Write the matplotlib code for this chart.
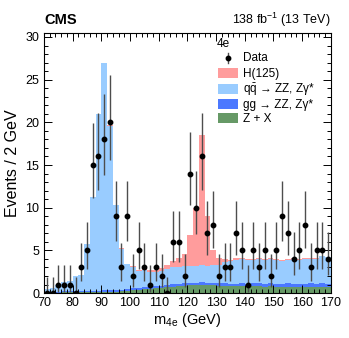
"""
Four-lepton invariant mass, 4e channel, 70-170 GeV
stacked expectations + data with Poisson (Garwood) error bars
"""

import numpy as np
import matplotlib
matplotlib.use("Agg")
import matplotlib.pyplot as plt
from matplotlib.patches import Rectangle
from matplotlib.ticker import MultipleLocator

plt.rcParams["font.family"] = ["Liberation Sans", "DejaVu Sans"]
plt.rcParams["mathtext.fontset"] = "custom"
plt.rcParams["mathtext.rm"] = "Liberation Sans"
plt.rcParams["mathtext.it"] = "Liberation Sans:italic"
plt.rcParams["mathtext.bf"] = "Liberation Sans:bold"

# ── Binning ─────────────────────────────────────────────────────────────────
edges = np.arange(70, 172, 2)          # 2 GeV bins, 70-170 GeV

# ── Observed events per bin ─────────────────────────────────────────────────
data_counts = [0, 0, 1, 1, 1, 0, 3, 5, 15, 16,
               18, 20, 9, 3, 9, 2, 5, 3, 1, 3,
               2, 0, 6, 6, 2, 14, 10, 16, 7, 8,
               2, 3, 3, 7, 5, 1, 5, 3, 5, 2,
               5, 9, 7, 4, 5, 8, 3, 5, 5, 4]

# ── Expected yields per bin (stack order: bottom -> top) ────────────────────
zx = [0.05, 0.05, 0.06, 0.07, 0.08, 0.08, 0.10, 0.10, 0.12, 0.12,
      0.15, 0.15, 0.18, 0.20, 0.25, 0.35, 0.40, 0.45, 0.50, 0.55,
      0.60, 0.70, 0.75, 0.80, 0.85, 0.90, 0.90, 0.95, 0.90, 0.90,
      0.85, 0.85, 0.80, 0.80, 0.80, 0.75, 0.80, 0.80, 0.75, 0.80,
      0.75, 0.70, 0.75, 0.70, 0.70, 0.70, 0.75, 0.70, 0.70, 0.65]

gg = [0.10, 0.10, 0.12, 0.12, 0.13, 0.14, 0.15, 0.15, 0.16, 0.17,
      0.18, 0.18, 0.18, 0.20, 0.20, 0.20, 0.22, 0.25, 0.25, 0.27,
      0.28, 0.30, 0.30, 0.30, 0.30, 0.30, 0.30, 0.30, 0.30, 0.30,
      0.30, 0.30, 0.30, 0.30, 0.35, 0.35, 0.35, 0.35, 0.35, 0.35,
      0.35, 0.35, 0.40, 0.40, 0.40, 0.40, 0.40, 0.40, 0.45, 0.45]

qq = [0.35, 0.45, 0.82, 1.11, 1.19, 1.78, 1.85, 5.45, 10.92, 20.71,
      26.57, 19.27, 9.94, 4.80, 2.95, 2.55, 1.98, 2.00, 1.75, 1.68,
      1.72, 1.80, 1.95, 2.00, 2.05, 2.00, 2.00, 2.05, 2.00, 2.10,
      2.15, 2.45, 2.60, 2.80, 2.85, 2.80, 2.75, 2.85, 2.80, 2.85,
      2.80, 2.75, 2.75, 2.90, 2.80, 2.90, 2.85, 2.90, 3.15, 3.10]

h125 = [0.00, 0.00, 0.00, 0.00, 0.00, 0.00, 0.00, 0.00, 0.02, 0.03,
        0.10, 0.05, 0.03, 0.03, 0.05, 0.05, 0.05, 0.10, 0.15, 0.20,
        0.30, 0.50, 0.80, 1.00, 1.40, 3.55, 6.80, 15.20, 5.80, 1.70,
        0.80, 0.40, 0.20, 0.15, 0.10, 0.10, 0.10, 0.08, 0.08, 0.08,
        0.07, 0.07, 0.07, 0.07, 0.07, 0.06, 0.06, 0.06, 0.06, 0.06]

labels = ["Z + X",
          "gg → ZZ, Zγ*",
          r"q$\bar{\mathrm{q}}$ → ZZ, Zγ*",
          "H(125)"]
colors = ["#669966", "#4b78ff", "#99ccff", "#ff9c9c"]


def garwood(n):
    """68% Poisson interval (Wilson-Hilferty approximation)."""
    n = np.asarray(n, dtype=float)
    up = (n + 1) * (1 - 1 / (9 * (n + 1)) + 1 / (3 * np.sqrt(n + 1))) ** 3
    with np.errstate(divide="ignore", invalid="ignore"):
        lo = n * (1 - 1 / (9 * n) - 1 / (3 * np.sqrt(n))) ** 3
    lo = np.where(n > 0, lo, 0.0)
    return n - lo, up - n


# ── Plot ────────────────────────────────────────────────────────────────────
fig = plt.figure(figsize=(3.49, 3.38), dpi=100)
ax = fig.add_axes([0.126, 0.133, 0.822, 0.769])

bottom = np.zeros(len(edges) - 1)
for comp, col in zip([zx, gg, qq, h125], colors):
    top = bottom + np.asarray(comp)
    ax.stairs(top, edges, baseline=bottom, fill=True, color=col,
              linewidth=0)
    bottom = top

centers = 0.5 * (edges[:-1] + edges[1:])
err_lo, err_hi = garwood(data_counts)
ax.errorbar(centers, data_counts, yerr=[err_lo, err_hi],
            fmt="o", color="black", markersize=3.2,
            ecolor="0.3", elinewidth=1.0, capsize=0, zorder=5)

ax.set_xlim(70, 170)
ax.set_ylim(0, 30.45)
ax.xaxis.set_major_locator(MultipleLocator(10))
ax.xaxis.set_minor_locator(MultipleLocator(2))
ax.yaxis.set_major_locator(MultipleLocator(5))
ax.yaxis.set_minor_locator(MultipleLocator(1))
ax.tick_params(which="both", direction="in", top=True, right=True,
               labelsize=9, width=0.7)
ax.tick_params(axis="x", pad=3)
ax.tick_params(axis="y", pad=3.5)
ax.tick_params(which="major", length=5.5)
ax.tick_params(which="minor", length=2.7)
for sp in ax.spines.values():
    sp.set_linewidth(0.8)

ax.set_xlabel(r"m$_{\mathrm{4e}}$ (GeV)", fontsize=10.5, labelpad=1)
ax.set_ylabel("Events / 2 GeV", fontsize=11.5, labelpad=4)

# ── Legend (drawn by hand so the rows are evenly spaced) ───────────────────
tr = ax.transAxes
leg_x, box_w, box_h = 0.606, 0.07, 0.038
row_y = [0.904, 0.846, 0.785, 0.727, 0.673]
ax.text(leg_x - 0.004, 0.958, "4e", transform=tr, fontsize=8.5,
        ha="left", va="center")
ax.plot([leg_x + box_w / 2] * 2, [row_y[0] - 0.018, row_y[0] + 0.018],
        transform=tr, color="0.3", lw=1.0, clip_on=False)
ax.plot([leg_x + box_w / 2], [row_y[0]], "o", color="black",
        markersize=3.2, transform=tr, clip_on=False)
ax.text(leg_x + box_w + 0.017, row_y[0], "Data", transform=tr,
        fontsize=8.5, ha="left", va="center")
for y, lab, col in zip(row_y[1:], labels[::-1], colors[::-1]):
    ax.add_patch(Rectangle((leg_x, y - box_h / 2), box_w, box_h,
                           transform=tr, facecolor=col, edgecolor="none"))
    ax.text(leg_x + box_w + 0.017, y - 0.016, lab, transform=tr,
            fontsize=8.5, ha="left", va="baseline")

fig.text(0.126, 0.93, "CMS", fontsize=10.5, fontweight="bold",
         ha="left", va="baseline")
fig.text(0.948, 0.93, r"138 fb$^{-1}$ (13 TeV)", fontsize=9,
         ha="right", va="baseline")

fig.savefig("out.png", dpi=100)
